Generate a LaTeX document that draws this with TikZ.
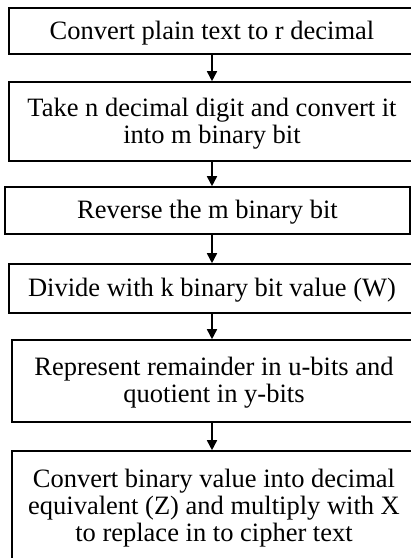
\documentclass[tikz,border=0pt]{standalone}
\usepackage{fontspec}
\setmainfont{Liberation Serif}
\usetikzlibrary{arrows.meta}
\begin{document}
\begin{tikzpicture}[x=1pt,y=1pt,
  stepbox/.style={draw=black,line width=1.6pt,inner sep=0pt},
  steptext/.style={align=center,inner sep=0pt,font=\fontsize{26.5}{27.2}\selectfont},
  arr/.style={line width=1.6pt,-{Triangle[length=10pt,width=10pt]}}]
\useasboundingbox (0,0) rectangle (411,-558);
\coordinate (ax) at (212,0);
\node[stepbox,minimum width=406,minimum height=46] (b1) at (212,-31) {};
\node[stepbox,minimum width=406,minimum height=79] (b2) at (212,-121.5) {};
\node[stepbox,minimum width=405,minimum height=47] (b3) at (207.5,-210.5) {};
\node[stepbox,minimum width=406,minimum height=49] (b4) at (212,-288.5) {};
\node[stepbox,minimum width=404,minimum height=82] (b5) at (214,-381) {};
\node[stepbox,minimum width=404,minimum height=111] (b6) at (214,-506.5) {};
\node[steptext] (t1) at ([yshift=-2pt]b1.center) {Convert plain text to r decimal};
\node[steptext] (t2) at ([yshift=-2.5pt]b2.center) {Take n decimal digit and convert it\\into m binary bit};
\node[steptext] (t3) at ([yshift=-2pt]b3.center) {Reverse the m binary bit};
\node[steptext] (t4) at ([yshift=-2pt]b4.center) {Divide with k binary bit value (W)};
\node[steptext] (t5) at ([yshift=-1.5pt]b5.center) {Represent remainder in u-bits and\\quotient in y-bits};
\node[steptext] (t6) at ([yshift=-1.5pt]b6.center) {Convert binary value into decimal\\equivalent (Z) and multiply with X\\to replace in to cipher text};
\draw[arr] (b1.south -| ax) -- (b2.north -| ax);
\draw[arr] (b2.south -| ax) -- (b3.north -| ax);
\draw[arr] (b3.south -| ax) -- (b4.north -| ax);
\draw[arr] (b4.south -| ax) -- (b5.north -| ax);
\draw[arr] (b5.south -| ax) -- (b6.north -| ax);
\end{tikzpicture}
\end{document}
